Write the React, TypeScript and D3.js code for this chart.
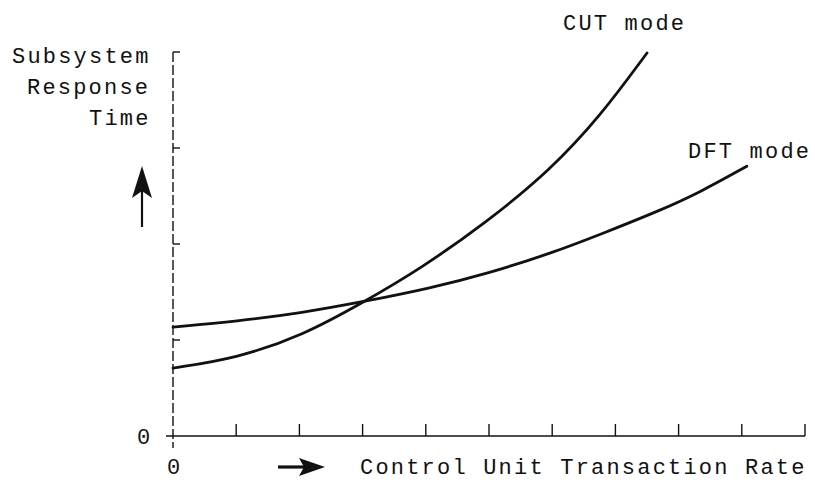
import React from "react";
import * as d3 from "d3";

const dftX = [0, 1.01, 2.06, 2.99, 4.07, 4.97, 6.01, 6.76, 7.71, 8.34, 9.08];
const dftY = [1.135, 1.195, 1.285, 1.396, 1.54, 1.69, 1.91, 2.1, 2.35, 2.54, 2.81];
const cutX = [0, 1.01, 2.06, 2.99, 3.91, 4.97, 5.97, 6.76, 7.5];
const cutY = [0.708, 0.81, 1.05, 1.385, 1.74, 2.23, 2.77, 3.33, 3.99];
const xTicks = [1, 2, 3, 4, 5, 6, 7, 8, 9, 10];
const yTicks = [1, 2, 3, 4];
const yLabelLines = ["Subsystem", "Response", "Time"];
const xTitle = "Control Unit Transaction Rate";
const seriesLabels = ["CUT mode", "DFT mode"];

export default function App() {
  const x = d3.scaleLinear().domain([0, 10]).range([173, 805]);
  const y = d3.scaleLinear().domain([0, 4]).range([436, 52]);
  const line = d3
    .line<[number, number]>()
    .x((d) => x(d[0]))
    .y((d) => y(d[1]))
    .curve(d3.curveBasis);
  const dft = dftX.map((v, i) => [v, dftY[i]] as [number, number]);
  const cut = cutX.map((v, i) => [v, cutY[i]] as [number, number]);
  const font = {
    fontFamily: "'Liberation Mono', 'DejaVu Sans Mono', monospace",
    fontSize: 22,
    letterSpacing: 2.2,
    fill: "#111",
  };
  const lineStarts = [12, 27, 89];
  return (
    <svg width={815} height={480} style={{ position: "absolute", left: 0, top: 0, background: "#fff" }}>
      {/* y axis dashed */}
      <line x1={x(0)} x2={x(0)} y1={y(4)} y2={448} stroke="#111" strokeWidth={1.4} strokeDasharray="10,3" />
      {yTicks.map((t) => (
        <line key={t} x1={x(0)} x2={x(0) + 7} y1={y(t)} y2={y(t)} stroke="#111" strokeWidth={1.4} />
      ))}
      {/* x axis */}
      <line x1={166} x2={x(10)} y1={y(0)} y2={y(0)} stroke="#111" strokeWidth={1.4} />
      {xTicks.map((t) => (
        <line key={t} x1={x(t)} x2={x(t)} y1={y(0)} y2={y(0) - 12} stroke="#111" strokeWidth={1.4} />
      ))}
      {/* curves */}
      <path d={line(dft) || ""} fill="none" stroke="#111" strokeWidth={2.8} strokeLinecap="round" />
      <path d={line(cut) || ""} fill="none" stroke="#111" strokeWidth={2.8} strokeLinecap="round" />
      {/* labels */}
      {yLabelLines.map((s, i) => (
        <text key={s} x={lineStarts[i]} y={63 + i * 31} {...font}>{s}</text>
      ))}
      <text x={137} y={444} {...font}>0</text>
      <text x={167} y={474} {...font}>0</text>
      <text x={360} y={474} {...font}>{xTitle}</text>
      <text x={563} y={30} {...font}>{seriesLabels[0]}</text>
      <text x={688} y={158} {...font}>{seriesLabels[1]}</text>
      {/* y arrow */}
      <line x1={142} x2={142} y1={227} y2={190} stroke="#111" strokeWidth={2.2} />
      <path d="M142,166 L152,198 L142,191 L132,198 Z" fill="#111" />
      {/* x arrow */}
      <line x1={278} x2={304} y1={467} y2={467} stroke="#111" strokeWidth={3.2} />
      <path d="M325,467 L299,458 L304,467 L299,476 Z" fill="#111" />
    </svg>
  );
}
